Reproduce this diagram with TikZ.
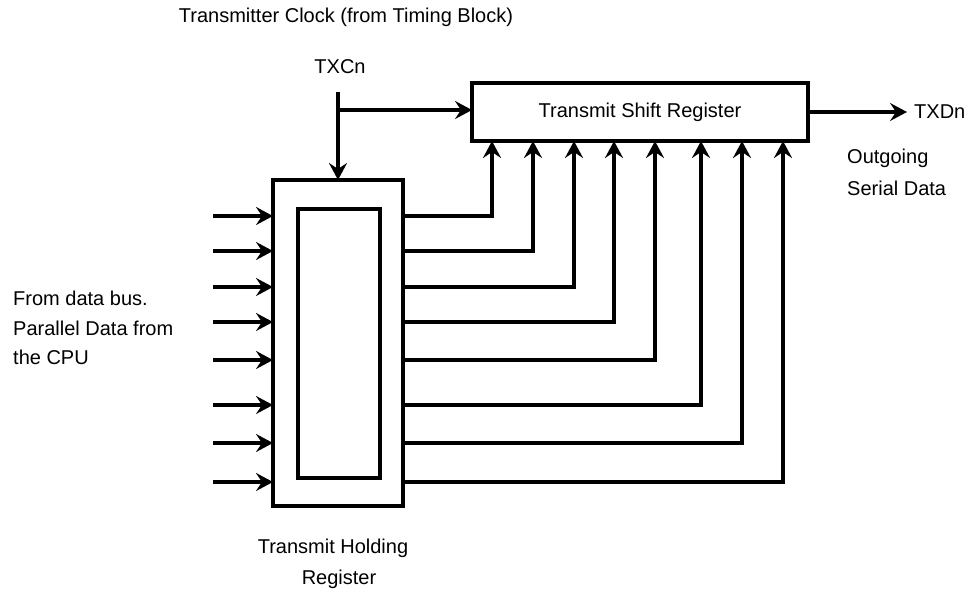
\documentclass[tikz,border=0pt]{standalone}
\usepackage{fontspec}
\setmainfont{Liberation Sans}
\usetikzlibrary{arrows.meta,calc}
\begin{document}
\begin{tikzpicture}[x=1pt,y=-1pt,
  wire/.style={line width=3.2pt},
  arr/.style={wire,-{Stealth[length=17pt,width=18pt,inset=6pt]}},
  box/.style={draw,line width=3.2pt,inner sep=0pt,outer sep=0pt},
  lbl/.style={font=\fontsize{20}{24}\selectfont,inner sep=0pt}]
\useasboundingbox (0,0) rectangle (980,590);
\fill[white] (0,0) rectangle (980,590);
% boxes
\node[box,minimum width=130pt,minimum height=326pt] (thr) at (338,343) {};
\node[box,minimum width=82pt,minimum height=269pt] (inner) at (339,343.5) {};
\node[box,minimum width=336pt,minimum height=58pt,lbl] (tsr) at (640,112) {Transmit Shift Register};
% texts
\node[lbl] (title) at (346,17) {Transmitter Clock (from Timing Block)};
\node[lbl] (txcn) at (340,67) {TXCn};
\node[lbl,anchor=west] (txdn) at (914,112) {TXDn};
\node[lbl,anchor=west] (out1) at (847,158) {Outgoing};
\node[lbl,anchor=west] (out2) at (847,188) {Serial Data};
\node[lbl,anchor=west] (src1) at (13,298) {From data bus.};
\node[lbl,anchor=west] (src2) at (13,328) {Parallel Data from};
\node[lbl,anchor=west] (src3) at (13,357) {the CPU};
\node[lbl] (hold1) at (333,548) {Transmit Holding};
\node[lbl] (hold2) at (339,579) {Register};
% clock
\coordinate (clk) at (338,92);
\coordinate (clkj) at (338,110);
\draw[arr] (clk) -- (clk |- thr.north);
\draw[arr] (clkj) -- (clkj -| tsr.west);
% serial out
\coordinate (txd) at (907,112);
\draw[arr] (tsr.east) -- (txd);
% parallel lines
\foreach \i/\y/\x in {1/216/492,2/251/533,3/287/574,4/322/614,5/360/655,6/405/701,7/443/742,8/482/783}{
  \coordinate (in\i) at (213,\y);
  \coordinate (up\i) at (\x,0);
  \draw[arr] (in\i) -- (in\i -| thr.west);
  \draw[arr] (in\i -| thr.east) -| (up\i |- tsr.south);
}
\end{tikzpicture}
\end{document}
